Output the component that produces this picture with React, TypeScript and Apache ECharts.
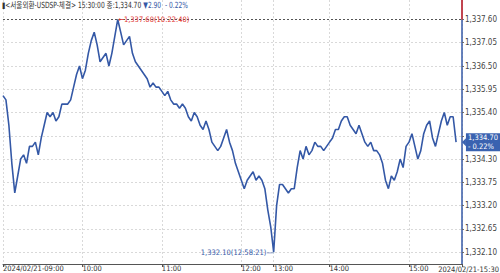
import React, { useEffect, useRef } from "react";
import * as echarts from "echarts";

// ---- data ----
const title = "<서울외환-USDSP-체결>";
const closeTime = "15:30:00";
const closeValue = 1334.7;
const changeValue = 2.9;
const changePct = -0.22;
const highTime = "10:22:40";
const lowTime = "12:58:21";

const slotCount = 157;
const tickIndex = [0, 27, 54, 81, 92, 111, 138, 156];
const tickLabels = ["2024/02/21-09:00", "10:00", "11:00", "12:00", "13:00", "14:00", "15:00", "2024/02/21-15:30"];

const yTicks = [1332.1, 1332.65, 1333.2, 1333.75, 1334.3, 1334.85, 1335.4, 1335.95, 1336.5, 1337.05, 1337.6];
const yLabelTicks = [1332.1, 1332.65, 1333.2, 1333.75, 1334.3, 1335.4, 1335.95, 1336.5, 1337.05, 1337.6];
const yMin = 1331.82;
const yMax = 1338.06;

const prices = [
  1335.8, 1335.7, 1335.1, 1334.2, 1333.5, 1333.9, 1334.3, 1334.4, 1334.2, 1334.6,
  1334.6, 1334.7, 1334.4, 1334.8, 1335.1, 1335.4, 1335.3, 1335.4, 1335.2, 1335.3,
  1335.6, 1335.6, 1335.6, 1335.7, 1336.0, 1336.3, 1336.5, 1336.2, 1336.4, 1336.8,
  1337.1, 1337.3, 1337.0, 1336.6, 1336.7, 1336.8, 1336.5, 1336.8, 1337.2, 1337.6,
  1337.3, 1337.0, 1337.1, 1337.2, 1336.8, 1336.6, 1336.5, 1336.4, 1336.3, 1336.2,
  1336.0, 1336.1, 1336.0, 1336.0, 1335.9, 1335.8, 1335.9, 1335.7, 1335.6, 1335.6,
  1335.5, 1335.6, 1335.5, 1335.3, 1335.2, 1335.4, 1335.3, 1335.1, 1335.0, 1335.2,
  1335.0, 1334.7, 1334.6, 1334.5, 1334.6, 1334.8, 1335.0, 1334.7, 1334.5, 1334.2,
  1334.0, 1333.8, 1333.6, 1333.8, 1333.9, 1334.0, 1333.8, 1333.9, 1333.8, 1333.6,
  1333.1, 1332.7, 1332.1, 1333.2, 1333.7, 1333.7, 1333.6, 1333.5, 1333.6, 1333.6,
  1334.1, 1334.5, 1334.3, 1334.6, 1334.4, 1334.5, 1334.7, 1334.6, 1334.6, 1334.5,
  1334.6, 1334.7, 1334.8, 1335.0, 1335.0, 1335.2, 1335.3, 1335.3, 1335.1, 1335.0,
  1334.9, 1335.1, 1334.9, 1334.7, 1334.6, 1334.7, 1334.5, 1334.5, 1334.4, 1334.2,
  1333.8, 1333.6, 1333.9, 1333.8, 1334.0, 1334.3, 1334.1, 1334.6, 1334.7, 1334.9,
  1334.6, 1334.3, 1334.5, 1334.9, 1335.1, 1335.2, 1334.8, 1334.6, 1334.9, 1335.2,
  1335.4, 1335.1, 1335.3, 1335.3, 1334.7,
];

// ---- styles ----
const BLUE = "#3458a6";
const TAG_BLUE = "#3a62b0";
const RED = "#e0312d";
const GRID = "#d9d9d9";
const FONT = "'Liberation Sans Narrow', 'DejaVu Sans Condensed', 'Noto Sans CJK KR', sans-serif";

const fmt = (v: number) =>
  v.toLocaleString("en-US", { minimumFractionDigits: 2, maximumFractionDigits: 2 });

export default function App() {
  const ref = useRef<HTMLDivElement>(null);

  useEffect(() => {
    if (!ref.current) return;
    const chart = echarts.init(ref.current, null, { renderer: "svg" });
    const categories = prices.map((_, i) => String(i));
    while (categories.length < slotCount) categories.push(String(categories.length));
    const high = Math.max(...prices);
    const low = Math.min(...prices);
    const highIdx = prices.indexOf(high);
    const lowIdx = prices.indexOf(low);
    const lastSlot = String(slotCount - 1);
    const lastTick = tickIndex[tickIndex.length - 1];
    const isTick = (i: number) => tickIndex.indexOf(i) >= 0;
    const isAxisLabel = (i: number) => isTick(i) && i !== lastTick;
    const pctText = (changePct < 0 ? "- " : "+ ") + Math.abs(changePct).toFixed(2) + "%";

    chart.setOption({
      animation: false,
      grid: { left: 0, right: 32, top: 0, bottom: 9 },
      xAxis: {
        type: "category",
        data: categories,
        boundaryGap: false,
        axisLine: { lineStyle: { color: "#555", width: 1 } },
        axisTick: { show: true, interval: (i: number) => isTick(i), length: 3, lineStyle: { color: "#555" } },
        axisLabel: {
          interval: (i: number) => isAxisLabel(i),
          formatter: (_v: string, i: number) => tickLabels[tickIndex.indexOf(i)] ?? "",
          align: "left",
          margin: 1,
          fontSize: 7.5,
          color: "#333",
          fontFamily: FONT,
        },
        splitLine: { show: true, interval: (i: number) => isTick(i), lineStyle: { color: GRID, type: [2, 2] } },
      },
      yAxis: {
        type: "value",
        position: "right",
        min: yMin,
        max: yMax,
        axisLine: { show: true, lineStyle: { color: BLUE, width: 1.5 } },
        axisTick: { show: true, customValues: yTicks, length: 2, lineStyle: { color: "#666" } },
        axisLabel: { customValues: yLabelTicks, formatter: (v: number) => fmt(v), margin: 3, fontSize: 8, color: "#444", fontFamily: FONT },
        splitLine: { show: true, lineStyle: { color: GRID, type: [2, 2] } },
      },
      graphic: [
        {
          type: "text",
          x: 2,
          y: 1,
          scaleX: 0.78,
          z: 100,
          style: {
            text: `{d|▮${title} ${closeTime} 종:${fmt(closeValue)} }{b|▼${changeValue.toFixed(2)}  ${pctText}}`,
            rich: {
              d: { fontSize: 8.5, fill: "#333", fontFamily: FONT },
              b: { fontSize: 8.5, fill: BLUE, fontFamily: FONT },
            },
          },
        },
        {
          type: "text",
          right: 1,
          bottom: 0,
          z: 100,
          style: { text: tickLabels[tickLabels.length - 1], fontSize: 7.5, fill: "#333", fontFamily: FONT },
        },
      ],
      series: [
        {
          type: "line",
          data: prices,
          symbol: "none",
          lineStyle: { color: BLUE, width: 1.6 },
          markLine: {
            silent: true,
            symbol: ["none", "none"],
            label: { show: false },
            data: [
              { yAxis: high, lineStyle: { color: "#555", width: 1, type: [2, 2] } },
              [
                { coord: [lastSlot, high], lineStyle: { color: RED, width: 1.5, type: "solid" } },
                { coord: [lastSlot, yMax] },
              ],
            ],
          },
          markPoint: {
            silent: true,
            data: [
              {
                coord: [String(highIdx), high],
                symbol: "circle",
                symbolSize: 1,
                itemStyle: { color: "rgba(0,0,0,0)" },
                label: {
                  show: true,
                  position: "right",
                  distance: 0,
                  formatter: `←${fmt(high)}(${highTime})`,
                  color: RED,
                  fontSize: 7.5,
                  fontFamily: FONT,
                },
              },
              {
                coord: [String(lowIdx), low],
                symbol: "circle",
                symbolSize: 1,
                itemStyle: { color: "rgba(0,0,0,0)" },
                label: {
                  show: true,
                  position: "left",
                  distance: 0,
                  formatter: `${fmt(low)}(${lowTime})—`,
                  color: BLUE,
                  fontSize: 7.5,
                  fontFamily: FONT,
                },
              },
              {
                coord: [lastSlot, closeValue],
                symbol: "triangle",
                symbolRotate: 90,
                symbolSize: [8, 4],
                symbolOffset: [2, 0],
                itemStyle: { color: TAG_BLUE },
                label: {
                  show: true,
                  position: "right",
                  distance: 0,
                  formatter: `${fmt(closeValue)}\n${pctText}`,
                  backgroundColor: TAG_BLUE,
                  color: "#fff",
                  padding: [1, 2, 0, 2],
                  lineHeight: 8.5,
                  fontSize: 7.5,
                  fontFamily: FONT,
                },
              },
            ],
          },
        },
      ],
    });
    return () => chart.dispose();
  }, []);

  return <div ref={ref} style={{ position: "absolute", left: 0, top: 0, width: 500, height: 273 }} />;
}
